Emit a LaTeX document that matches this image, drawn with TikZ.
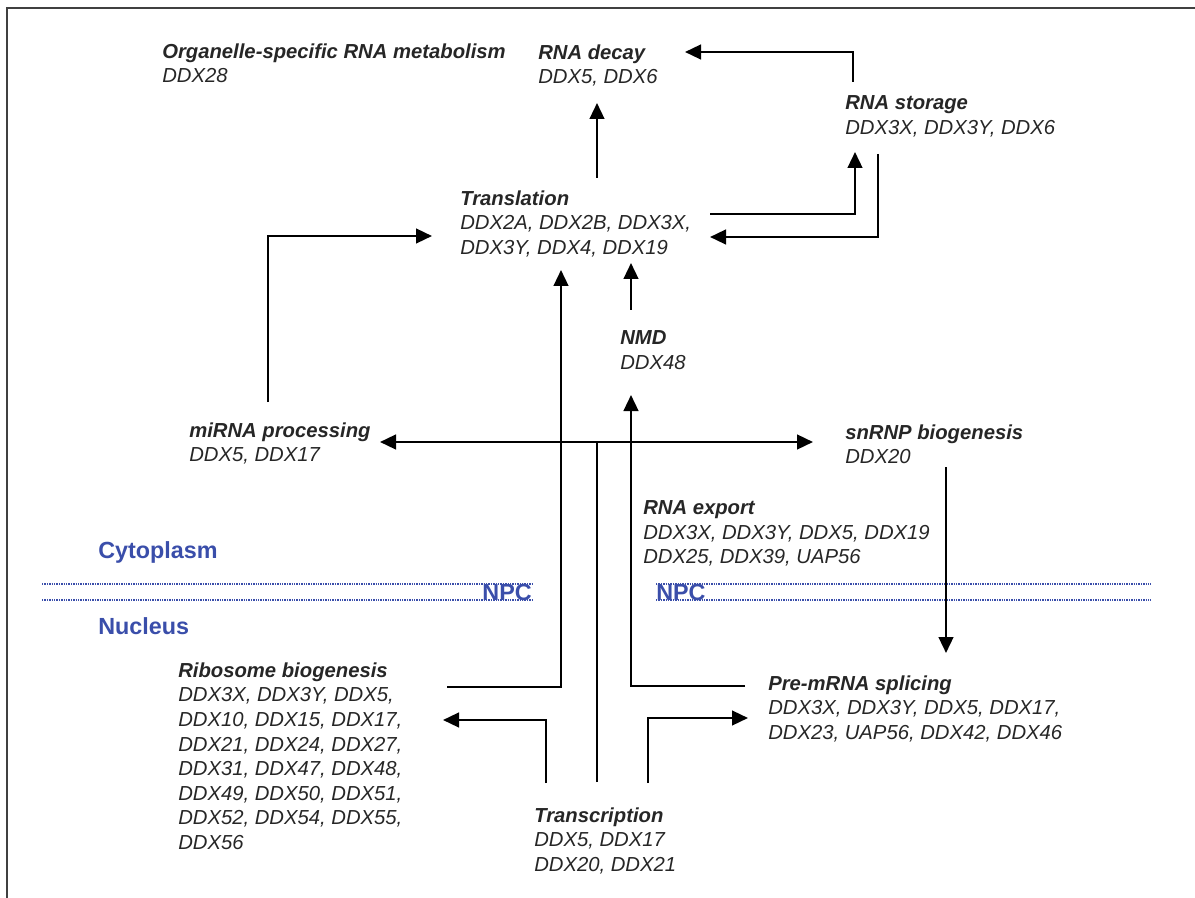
\documentclass[tikz,border=0pt]{standalone}
\usepackage{fontspec}
\setmainfont{Liberation Sans}
\usetikzlibrary{arrows.meta}
\definecolor{npcblue}{RGB}{58,78,170}

\begin{document}
\begin{tikzpicture}[x=0.75pt, y=-0.75pt,
	every node/.style={inner sep=0pt, anchor=north west, align=left, text=black!85, font=\fontsize{15.2}{18.4}\selectfont\itshape},
	tip/.tip={Triangle[length=12pt,width=11pt]},
	arr/.style={-tip, line width=1.8pt},
	link/.style={line width=1.8pt},
	region/.style={anchor=west, text=npcblue, font=\fontsize{17.5}{20}\selectfont\bfseries},
	membrane/.style={npcblue, line width=1.3pt, dash pattern=on 1pt off 0.8pt}]
	
		\useasboundingbox (0,0) rectangle (1195,898);
		\draw[black!75, line width=1pt] (7,898) -- (7,8) -- (1195,8);
		
		% cytoplasm / nucleus boundary
		\draw[membrane] (42,584) -- (532,584);
		\draw[membrane] (42,600) -- (532,600);
		\draw[membrane] (656,584) -- (1151,584);
		\draw[membrane] (656,600) -- (1151,600);
		\node (cyto) [region] at (98,552) {Cytoplasm};
		\node (nucl) [region] at (98,626) {Nucleus};
		\node (npcL) [region, anchor=east] at (532,592) {NPC};
		\node (npcR) [region] at (656,592) {NPC};
		
		\node (organelle) at (162,43.5) {\textbf{Organelle-specific RNA metabolism}\\DDX28};
		\node (decay) at (538,44.5) {\textbf{RNA decay}\\DDX5, DDX6};
		\node (storage) at (845,95.5) {\textbf{RNA storage}\\DDX3X, DDX3Y, DDX6};
		\node (transl) at (460,190.5) {\textbf{Translation}\\DDX2A, DDX2B, DDX3X,\\DDX3Y, DDX4, DDX19};
		\node (nmd) at (620,330.5) {\textbf{NMD}\\DDX48};
		\node (mirna) at (189,422.5) {\textbf{miRNA processing}\\DDX5, DDX17};
		\node (snrnp) at (845,424.5) {\textbf{snRNP biogenesis}\\DDX20};
		\node (export) at (643,500.5) {\textbf{RNA export}\\DDX3X, DDX3Y, DDX5, DDX19\\DDX25, DDX39, UAP56};
		\node (ribo) at (178,662.5) {\textbf{Ribosome biogenesis}\\DDX3X, DDX3Y, DDX5,\\DDX10, DDX15, DDX17,\\DDX21, DDX24, DDX27,\\DDX31, DDX47, DDX48,\\DDX49, DDX50, DDX51,\\DDX52, DDX54, DDX55,\\DDX56};
		\node (splice) at (768,675.5) {\textbf{Pre-mRNA splicing}\\DDX3X, DDX3Y, DDX5, DDX17,\\DDX23, UAP56, DDX42, DDX46};
		\node (transc) at (534,807.5) {\textbf{Transcription}\\DDX5, DDX17\\DDX20, DDX21};
		
		% connector ends
		\coordinate (decay-in) at (597,103);
		\coordinate (transl-up) at (597,178);
		\coordinate (storage-up) at (853,82);
		\coordinate (decay-side) at (685,52);
		\coordinate (transl-right) at (710,214);
		\coordinate (storage-in) at (855,152);
		\coordinate (storage-down) at (878,154);
		\coordinate (transl-back) at (710,237);
		\coordinate (mirna-up) at (268,402);
		\coordinate (transl-left) at (432,236);
		\coordinate (nmd-up) at (631,310);
		\coordinate (transl-nmd) at (631,263);
		\coordinate (ribo-out) at (447,687);
		\coordinate (transl-ribo) at (561,270);
		\coordinate (splice-out) at (745,686);
		\coordinate (nmd-in) at (631,395);
		\coordinate (mirna-in) at (380,442);
		\coordinate (snrnp-in) at (813,442);
		\coordinate (hub) at (597,442);
		\coordinate (transc-mid) at (597,782);
		\coordinate (transc-left) at (546,783);
		\coordinate (ribo-in) at (443,720);
		\coordinate (transc-right) at (648,783);
		\coordinate (splice-in) at (748,718);
		\coordinate (snrnp-down) at (946,467);
		\coordinate (splice-top) at (946,653);
		
		\draw[arr] (transl-up) -- (decay-in);
		\draw[arr] (storage-up) |- (decay-side);
		\draw[arr] (transl-right) -| (storage-in);
		\draw[arr] (storage-down) |- (transl-back);
		\draw[arr] (mirna-up) |- (transl-left);
		\draw[arr] (nmd-up) -- (transl-nmd);
		\draw[arr] (ribo-out) -| (transl-ribo);
		\draw[arr] (splice-out) -| (nmd-in);
		\draw[link, tip-tip] (mirna-in) -- (snrnp-in);
		\draw[link] (transc-mid) -- (hub);
		\draw[arr] (transc-left) |- (ribo-in);
		\draw[arr] (transc-right) |- (splice-in);
		\draw[arr] (snrnp-down) -- (splice-top);
		
	\end{tikzpicture}
\end{document}
